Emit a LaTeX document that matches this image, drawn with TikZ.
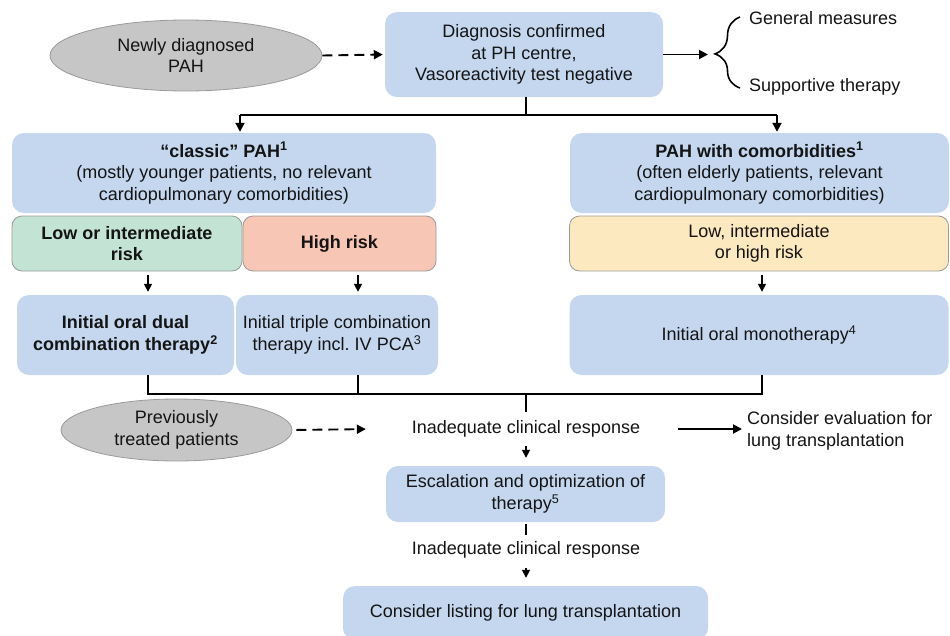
\documentclass[tikz,border=0pt]{standalone}
\usepackage{fontspec}
\setmainfont{Liberation Sans}
\frenchspacing
\usetikzlibrary{shapes.geometric,arrows.meta,decorations.pathreplacing}
\definecolor{bluebox}{HTML}{C4D7EF}
\definecolor{greenbox}{HTML}{C3E4D5}
\definecolor{salmonbox}{HTML}{F8C6B5}
\definecolor{yellowbox}{HTML}{FDE9BF}
\definecolor{ellfill}{HTML}{C6C6C6}
\definecolor{ellline}{HTML}{9A9A9A}
\definecolor{txt}{HTML}{141414}
\begin{document}
\begin{tikzpicture}[x=1pt,y=-1pt,
  font=\fontsize{18}{21.5}\selectfont, text=txt,
  bluebox/.style={rectangle, rounded corners=12pt, fill=bluebox, draw=none, align=center, inner sep=0pt},
  riskbox/.style={rectangle, rounded corners=10pt, draw=ellline, line width=0.8pt, align=center, inner sep=0pt},
  oval/.style={ellipse, fill=ellfill, draw=ellline, line width=0.8pt, align=center, inner sep=0pt},
  plain/.style={align=center, inner sep=0pt},
  conn/.style={line width=1.9pt, black},
  arr/.style={conn, -{Triangle[length=9pt,width=9pt]}},
  smallarr/.style={conn, line width=1.6pt, -{Triangle[length=8pt,width=8pt]}},
  dasharr/.style={arr, dash pattern=on 10pt off 6pt}
]
\useasboundingbox (0,0) rectangle (950,635);

% top row
\node[oval, minimum width=272, minimum height=71] (newly) at (186,55.5) {Newly diagnosed\\PAH};
\node[bluebox, minimum width=278, minimum height=85] (top) at (524,54.5) {Diagnosis confirmed\\at PH centre,\\Vasoreactivity test negative};
\node[plain, anchor=west] (gen) at (749,18) {General measures};
\node[plain, anchor=west] (supp) at (749,87) {Supportive therapy};
\coordinate (btop) at (740,17);
\coordinate (bbot) at (740,88);
\coordinate (btip) at (715,54);
\draw[line width=1.6pt, decorate, decoration={brace, amplitude=25pt, aspect=0.48}] (bbot) -- (btop);

% category boxes
\node[bluebox, minimum width=424, minimum height=80] (classic) at (224,173) {\textbf{“classic” PAH\textsuperscript{1}}\\(mostly younger patients, no relevant\\cardiopulmonary comorbidities)};
\node[bluebox, minimum width=379, minimum height=80] (comor) at (759.5,173) {\textbf{PAH with comorbidities\textsuperscript{1}}\\(often elderly patients, relevant\\cardiopulmonary comorbidities)};

% risk boxes
\node[riskbox, fill=greenbox, minimum width=230, minimum height=55] (low) at (127,243.5) {\textbf{Low or intermediate}\\\textbf{risk}};
\node[riskbox, fill=salmonbox, minimum width=193, minimum height=55] (high) at (339.5,243.5) {\textbf{High risk}};
\node[riskbox, fill=yellowbox, minimum width=379, minimum height=55] (yel) at (759,243.5) {Low, intermediate\\or high risk};

% therapy boxes
\node[bluebox, minimum width=217, minimum height=80] (dual) at (125.5,335) {\textbf{Initial oral dual}\\\textbf{combination therapy\textsuperscript{2}}};
\node[bluebox, minimum width=202, minimum height=80] (triple) at (337,335) {Initial triple combination\\therapy incl. IV PCA\textsuperscript{3}};
\node[bluebox, minimum width=379, minimum height=80] (mono) at (759,335) {Initial oral monotherapy\textsuperscript{4}};

% lower part
\node[oval, minimum width=231, minimum height=62] (prev) at (176.5,430) {Previously\\treated patients};
\node[plain, minimum width=304, minimum height=34] (inad1) at (526,429) {Inadequate clinical response};
\node[plain, anchor=west, align=left, inner xsep=5pt] (cons) at (742,431) {Consider evaluation for\\lung transplantation};
\node[bluebox, minimum width=279, minimum height=56] (esc) at (525.5,494) {Escalation and optimization of\\therapy\textsuperscript{5}};
\node[plain, minimum width=304, minimum height=30] (inad2) at (526,550) {Inadequate clinical response};
\node[bluebox, minimum width=365, minimum height=54] (final) at (525.5,613) {Consider listing for lung transplantation};

% connectors top
\draw[dasharr, shorten >=2pt] (newly.east) -- (top.west);
\draw[arr, shorten >=7pt] (top.east) -- (top.east -| btip);

\coordinate (split) at (526,115);
\coordinate (sl) at (240,115);
\coordinate (sr) at (777,115);
\draw[conn] (top.south -| split) -- (split);
\draw[conn] (sl) -- (sr);
\draw[arr, shorten >=1pt] (sl) -- (classic.north -| sl);
\draw[arr, shorten >=1pt] (sr) -- (comor.north -| sr);

% small arrows risk -> therapy
\coordinate (xa) at (148,0);
\coordinate (xb) at (358,0);
\coordinate (xc) at (762,0);
\draw[smallarr, shorten <=4pt, shorten >=3pt] (low.south -| xa) -- (dual.north -| xa);
\draw[smallarr, shorten <=4pt, shorten >=3pt] (high.south -| xb) -- (triple.north -| xb);
\draw[smallarr, shorten <=4pt, shorten >=3pt] (yel.south -| xc) -- (mono.north -| xc);

% merge
\coordinate (ma) at (148,394);
\coordinate (mb) at (358,394);
\coordinate (mc) at (762,394);
\coordinate (mm) at (526,394);
\draw[conn] (dual.south -| ma) -- (ma) -- (mc) -- (mono.south -| mc);
\draw[conn] (triple.south -| mb) -- (mb);
\draw[conn] (mm) -- (inad1.north -| mm);

% lower connectors
\draw[dasharr, shorten <=4pt, shorten >=8pt] (prev.east) -- (inad1.west);
\draw[arr] (inad1.east) -- (inad1.east -| cons.west);
\draw[smallarr, shorten >=8pt] (inad1.south -| mm) -- (esc.north -| mm);
\draw[conn, line width=1.6pt, shorten <=2pt] (esc.south -| mm) -- (inad2.north -| mm);
\draw[smallarr, shorten <=3pt, shorten >=8pt] (inad2.south -| mm) -- (final.north -| mm);
\end{tikzpicture}
\end{document}
